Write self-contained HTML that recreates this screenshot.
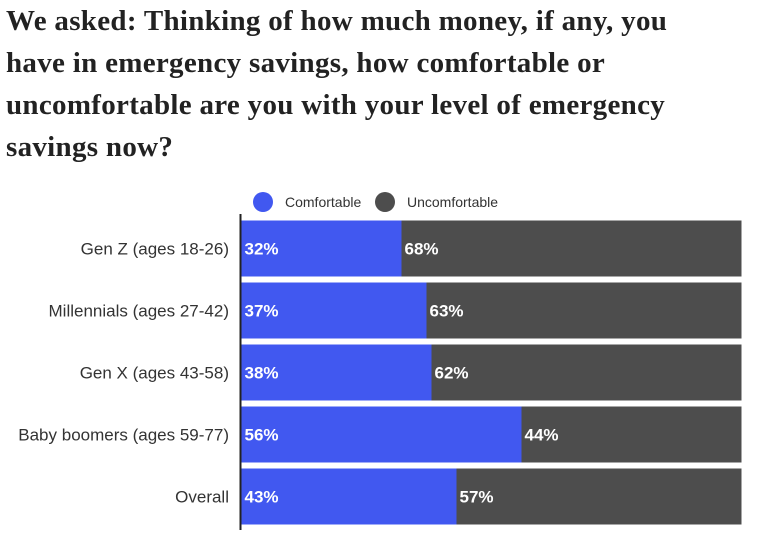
<!DOCTYPE html>
<html><head><meta charset="utf-8"><style>
body{margin:0;background:#fff;width:760px;height:541px;overflow:hidden;font-family:"Liberation Sans",sans-serif}
#title{position:absolute;left:6px;top:0;font-family:"Liberation Serif",serif;font-weight:bold;font-size:29px;line-height:42px;color:#222;white-space:nowrap;letter-spacing:0.3px}
</style></head><body>
<div id="title">We asked: Thinking of how much money, if any, you<br>have in emergency savings, how comfortable or<br>uncomfortable are you with your level of emergency<br>savings now?</div>
<svg id="chart" width="760" height="541" style="position:absolute;left:0;top:0">
<g>
<circle cx="263" cy="202" r="10" fill="#4158f0"/>
<text x="285" y="207" font-size="14" fill="#333">Comfortable</text>
<circle cx="385" cy="202" r="10" fill="#4d4d4d"/>
<text x="407" y="207" font-size="14" fill="#333">Uncomfortable</text>
</g>
<g id="bars"></g>
<line x1="240.5" y1="214" x2="240.5" y2="530" stroke="#222" stroke-width="2"/>
</svg>
<script>
const categories=["Gen Z (ages 18-26)","Millennials (ages 27-42)","Gen X (ages 43-58)","Baby boomers (ages 59-77)","Overall"];
const comfortable=[32,37,38,56,43];
const uncomfortable=[68,63,62,44,57];
const x0=241.5,W=500,top0=220.5,step=62,bh=56;
const xs=v=>v/100*W;
const g=document.getElementById('bars');
const NS="http://www.w3.org/2000/svg";
function mk(t,a){const e=document.createElementNS(NS,t);for(const k in a)e.setAttribute(k,a[k]);g.appendChild(e);return e;}
categories.forEach((c,i)=>{
 const y=top0+i*step;
 const wc=xs(comfortable[i]),wu=xs(uncomfortable[i]);
 const r1=mk('rect',{x:x0,y:y,width:wc,height:bh,fill:'#4158f0'});
 
 
 const r2=mk('rect',{x:x0+wc,y:y,width:wu,height:bh,fill:'#4d4d4d'});
 
 
 const t1=mk('text',{x:x0+3,y:y+bh/2+6,'font-size':17,'font-weight':'bold',fill:'#fff'});
 t1.textContent=comfortable[i]+'%';
 
 
 const t2=mk('text',{x:x0+wc+3,y:y+bh/2+6,'font-size':17,'font-weight':'bold',fill:'#fff'});
 t2.textContent=uncomfortable[i]+'%';
 
 
 const l=mk('text',{x:229,y:y+bh/2+6,'font-size':17,'text-anchor':'end',fill:'#333'});
 l.textContent=c;
 
 
});
</script>
</body></html>
